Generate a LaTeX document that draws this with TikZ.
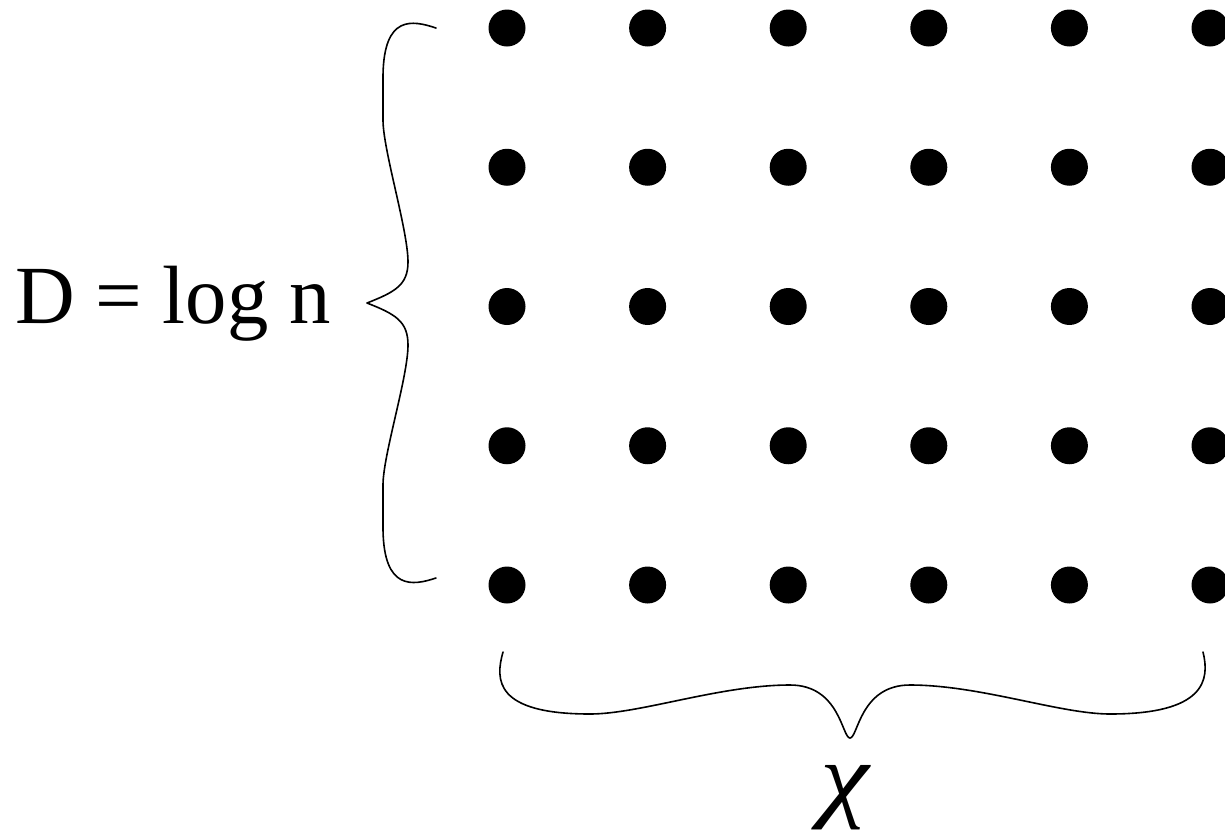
\documentclass[tikz,border=0pt]{standalone}
\usepackage{fontspec}
\setmainfont{Liberation Serif}
\begin{document}
\begin{tikzpicture}[x=0.75pt,y=-0.75pt,
  gdot/.style={circle,fill=black,inner sep=0pt,minimum size=27.75pt},
  brace/.style={line width=1.2pt,line join=round,line cap=round},
  bigtext/.style={inner sep=0pt,font=\fontsize{62}{72}\selectfont},
  chitext/.style={inner sep=0pt,font=\fontsize{72}{80}\selectfont}]
\useasboundingbox (0,0) rectangle (1225,833);
\clip (0,0) rectangle (1225,833);
\foreach \i in {0,...,5}{
  \foreach \j in {0,...,4}{
    \node[gdot] (d\i\j) at ({507+140.6*\i},{28+139.25*\j}) {};
  }
}
\node[bigtext,anchor=base west] (lab) at (15,323) {D = log n};
\node[chitext,anchor=base] (chi) at (846,809) {\scalebox{1.15}[1]{\textit{χ}}};
% left brace
\draw[brace] (436,28) .. controls (412,20) and (384,15) .. (383,75) -- (383,120)
  .. controls (383,150) and (408,230) .. (408,262)
  .. controls (408,285) and (395,292) .. (367,303)
  .. controls (395,314) and (408,321) .. (408,345)
  .. controls (408,377) and (383,455) .. (383,485) -- (383,530)
  .. controls (384,590) and (412,586) .. (436,578);
% bottom brace
\draw[brace] (503,652) .. controls (495,680) and (495,714) .. (590,714)
  .. controls (640,714) and (720,685) .. (790,685)
  .. controls (840,685) and (842,738) .. (850,738)
  .. controls (858,738) and (860,685) .. (910,685)
  .. controls (980,685) and (1060,714) .. (1110,714)
  .. controls (1205,714) and (1210,680) .. (1203,652);
\end{tikzpicture}
\end{document}
